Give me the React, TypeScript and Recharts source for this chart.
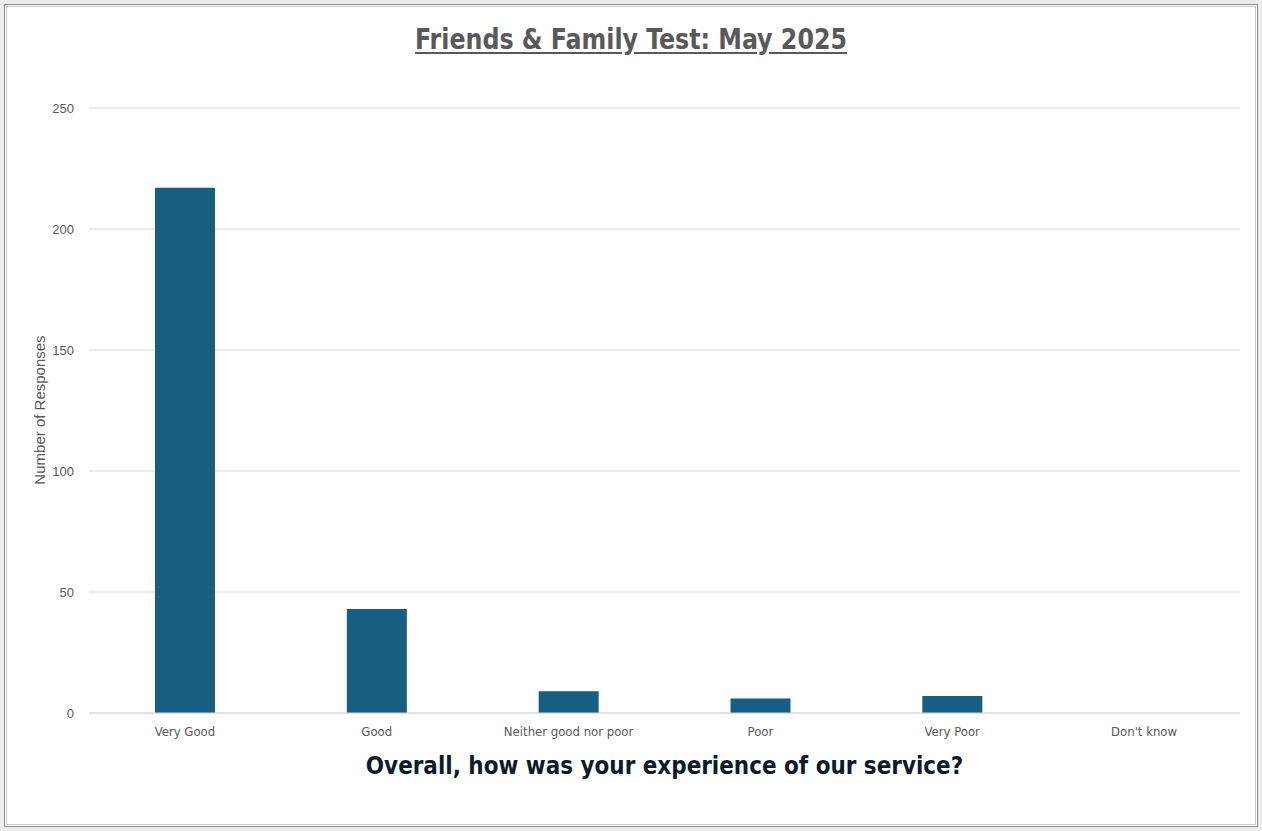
import { BarChart, Bar, XAxis, YAxis, CartesianGrid } from 'recharts'

const CATEGORIES = ['Very Good', 'Good', 'Neither good nor poor', 'Poor', 'Very Poor', "Don't know"]
const RESPONSES = [217, 43, 9, 6, 7, 0]
const Y_TICKS = [0, 50, 100, 150, 200, 250]

const data = CATEGORIES.map((c, i) => ({ category: c, responses: RESPONSES[i] }))

const NARROW = '"DejaVu Sans Condensed", "Liberation Sans", sans-serif'

export default function App() {
  return (
    <div style={{ position: 'absolute', left: 0, top: 0, width: 1262, height: 831, background: '#fff', fontFamily: '"Liberation Sans", Arial, sans-serif' }}>
      {/* frame */}
      <div style={{ position: 'absolute', left: 0, top: 0, width: 1262, height: 831, boxSizing: 'border-box', border: '4px solid #ececec' }} />
      <div style={{ position: 'absolute', left: 4, top: 4, width: 1254, height: 823, boxSizing: 'border-box', border: '1px solid #8c8c8c' }} />
      <div style={{ position: 'absolute', left: 6, top: 6, width: 1250, height: 819, boxSizing: 'border-box', border: '1px solid #c8c8c8' }} />

      <div style={{ position: 'absolute', left: 0, top: 22, width: 1262, textAlign: 'center', transform: 'scaleX(0.91)', fontFamily: NARROW, fontWeight: 700, fontSize: 29, color: '#595959', textDecoration: 'underline', textUnderlineOffset: 3 }}>
        Friends &amp; Family Test: May 2025
      </div>

      <div style={{ position: 'absolute', left: 39, top: 410, transform: 'translate(-50%, -50%) rotate(-90deg)', whiteSpace: 'nowrap', fontSize: 15, color: '#595959' }}>
        Number of Responses
      </div>

      <div style={{ position: 'absolute', left: 89, top: 751, width: 1151, textAlign: 'center', transform: 'scaleX(0.957)', fontFamily: NARROW, fontWeight: 700, fontSize: 25, color: '#0d1a2a' }}>
        Overall, how was your experience of our service?
      </div>

      <div style={{ position: 'absolute', left: 0, top: 0 }}>
        <BarChart width={1262} height={831} data={data} margin={{ top: 108, right: 22, bottom: 78, left: 45 }}>
          <CartesianGrid vertical={false} stroke="#d9d9d9" />
          <XAxis
            dataKey="category"
            axisLine={{ stroke: '#d9d9d9' }}
            tickLine={false}
            height={40}
            tickMargin={8}
            tick={{ fill: '#595959', fontSize: 13, fontFamily: NARROW }}
            interval={0}
          />
          <YAxis
            width={44}
            domain={[0, 250]}
            ticks={Y_TICKS}
            axisLine={false}
            tickLine={false}
            tickMargin={9}
            tick={{ fill: '#595959', fontSize: 13 }}
          />
          <Bar dataKey="responses" fill="#175f82" barSize={60} isAnimationActive={false} />
        </BarChart>
      </div>
    </div>
  )
}
